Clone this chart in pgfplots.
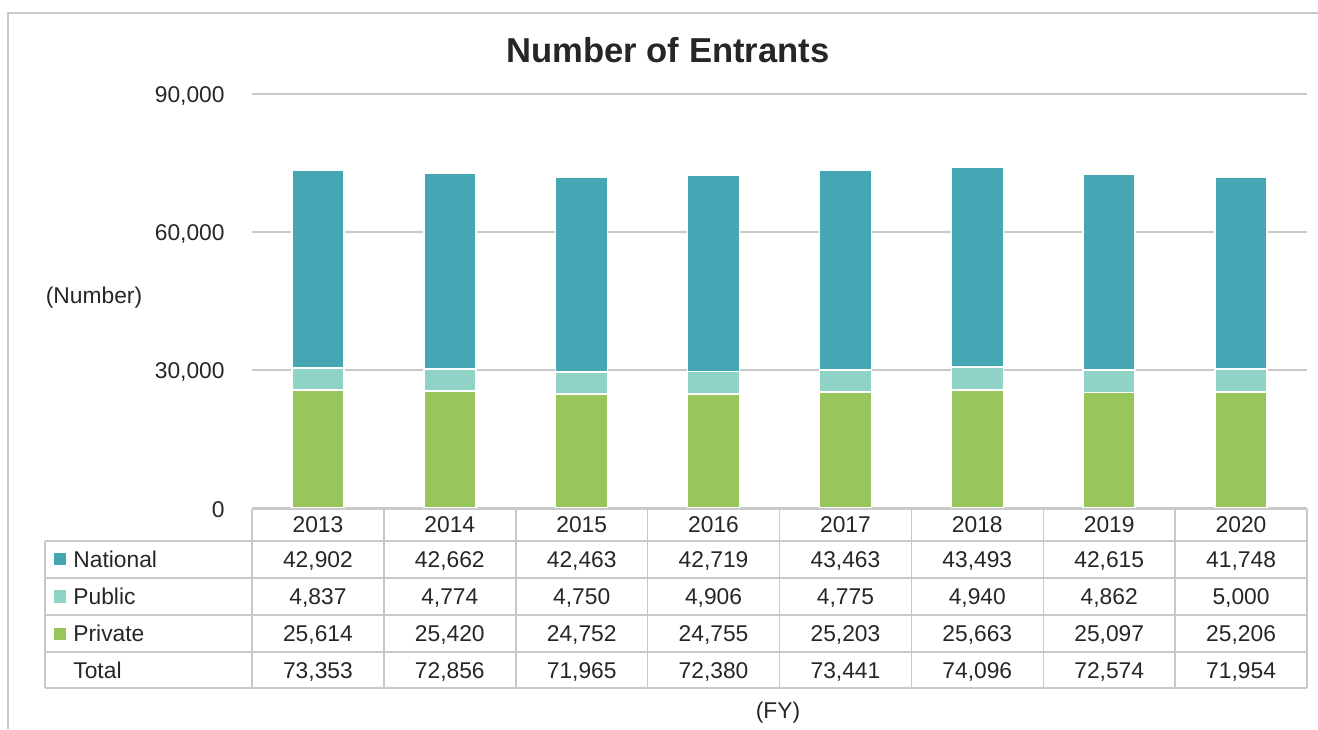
\documentclass[border=0pt]{standalone}
\usepackage{fontspec}
\setmainfont{Liberation Sans}
\usepackage{pgfplots}
\usepackage{pgfplotstable}
\pgfplotsset{compat=1.18}

\definecolor{natc}{HTML}{46A7B4}
\definecolor{pubc}{HTML}{8FD3C6}
\definecolor{pric}{HTML}{98C65D}
\definecolor{gridc}{HTML}{C9C9C9}
\definecolor{txt}{HTML}{262626}

\pgfkeys{/pgf/number format/.cd,1000 sep={,},assume math mode=true}

% entrants by fiscal year
\pgfplotstableread{
x year national public private total
0 2013 42902 4837 25614 73353
1 2014 42662 4774 25420 72856
2 2015 42463 4750 24752 71965
3 2016 42719 4906 24755 72380
4 2017 43463 4775 25203 73441
5 2018 43493 4940 25663 74096
6 2019 42615 4862 25097 72574
7 2020 41748 5000 25206 71954
}\entrants

\newcommand\lbl{\fontsize{11.4}{13.5}\selectfont}

\begin{document}
\begin{tikzpicture}[font=\lbl, text=txt]
\begin{axis}[
    at={(126pt,110.5pt)}, anchor=south west,
    scale only axis, width=527.5pt, height=207pt,
    ybar stacked, bar width=26pt,
    xmin=-0.5, xmax=7.5, ymin=0, ymax=90000,
    xtick=\empty, ytick={0,30000,60000,90000},
    scaled y ticks=false,
    axis line style={draw=none}, major tick length=0pt,
    ymajorgrids, grid style={gridc, line width=0.8pt},
    yticklabel style={font=\lbl, text=txt, inner sep=0pt, xshift=-13.5pt, yshift=-1pt},
    every axis plot/.append style={draw=white, line width=0.8pt},
]
\addplot[fill=pric] table[x=x, y=private]{\entrants};
\addplot[fill=pubc] table[x=x, y=public]{\entrants};
\addplot[fill=natc] table[x=x, y=national]{\entrants};
\end{axis}

\begin{scope}[x=0.5pt, y=-0.5pt, yshift=364.5pt]
  \useasboundingbox (0,0) rectangle (1318,729);
  % outer frame
  \draw[gridc, line width=0.9pt] (8,729) -- (8,13) -- (1318,13);
  % title and captions
  \node[font=\fontsize{17.3}{20}\selectfont\bfseries] at (668,50) {Number of Entrants};
  \node at (94,298) {(Number)};
  \node at (778,713) {(FY)};
  % data table grid
  \begin{scope}[gridc, line width=0.75pt]
    \draw (252,509) -- (1307,509);
    \foreach \yy in {541,578,615,652,688} \draw (45,\yy) -- (1307,\yy);
    \draw (45,541) -- (45,688);
    \foreach \k in {0,...,8} \draw ({252+131.875*\k},509) -- ({252+131.875*\k},688);
  \end{scope}
  % row headers
  \fill[natc] (54,553.5) rectangle (66,565.5);
  \fill[pubc] (54,590.5) rectangle (66,602.5);
  \fill[pric] (54,627.5) rectangle (66,639.5);
  \begin{scope}[every node/.style={text height=8.2pt, text depth=2.2pt, inner xsep=0pt}]
  \node[anchor=west] at (73,561.5) {National};
  \node[anchor=west] at (73,598.5) {Public};
  \node[anchor=west] at (73,635.5) {Private};
  \node[anchor=west] at (73,672) {Total};
  % cells
  \foreach \i in {0,...,7} {
    \pgfmathsetmacro\cx{252+131.875*(\i+0.5)}
    \pgfplotstablegetelem{\i}{year}\of\entrants
    \node at (\cx,527) {\pgfplotsretval};
    \pgfplotstablegetelem{\i}{national}\of\entrants
    \node at (\cx,561.5) {\pgfmathprintnumber{\pgfplotsretval}};
    \pgfplotstablegetelem{\i}{public}\of\entrants
    \node at (\cx,598.5) {\pgfmathprintnumber{\pgfplotsretval}};
    \pgfplotstablegetelem{\i}{private}\of\entrants
    \node at (\cx,635.5) {\pgfmathprintnumber{\pgfplotsretval}};
    \pgfplotstablegetelem{\i}{total}\of\entrants
    \node at (\cx,672) {\pgfmathprintnumber{\pgfplotsretval}};
  }
  \end{scope}
\end{scope}
\end{tikzpicture}
\end{document}
